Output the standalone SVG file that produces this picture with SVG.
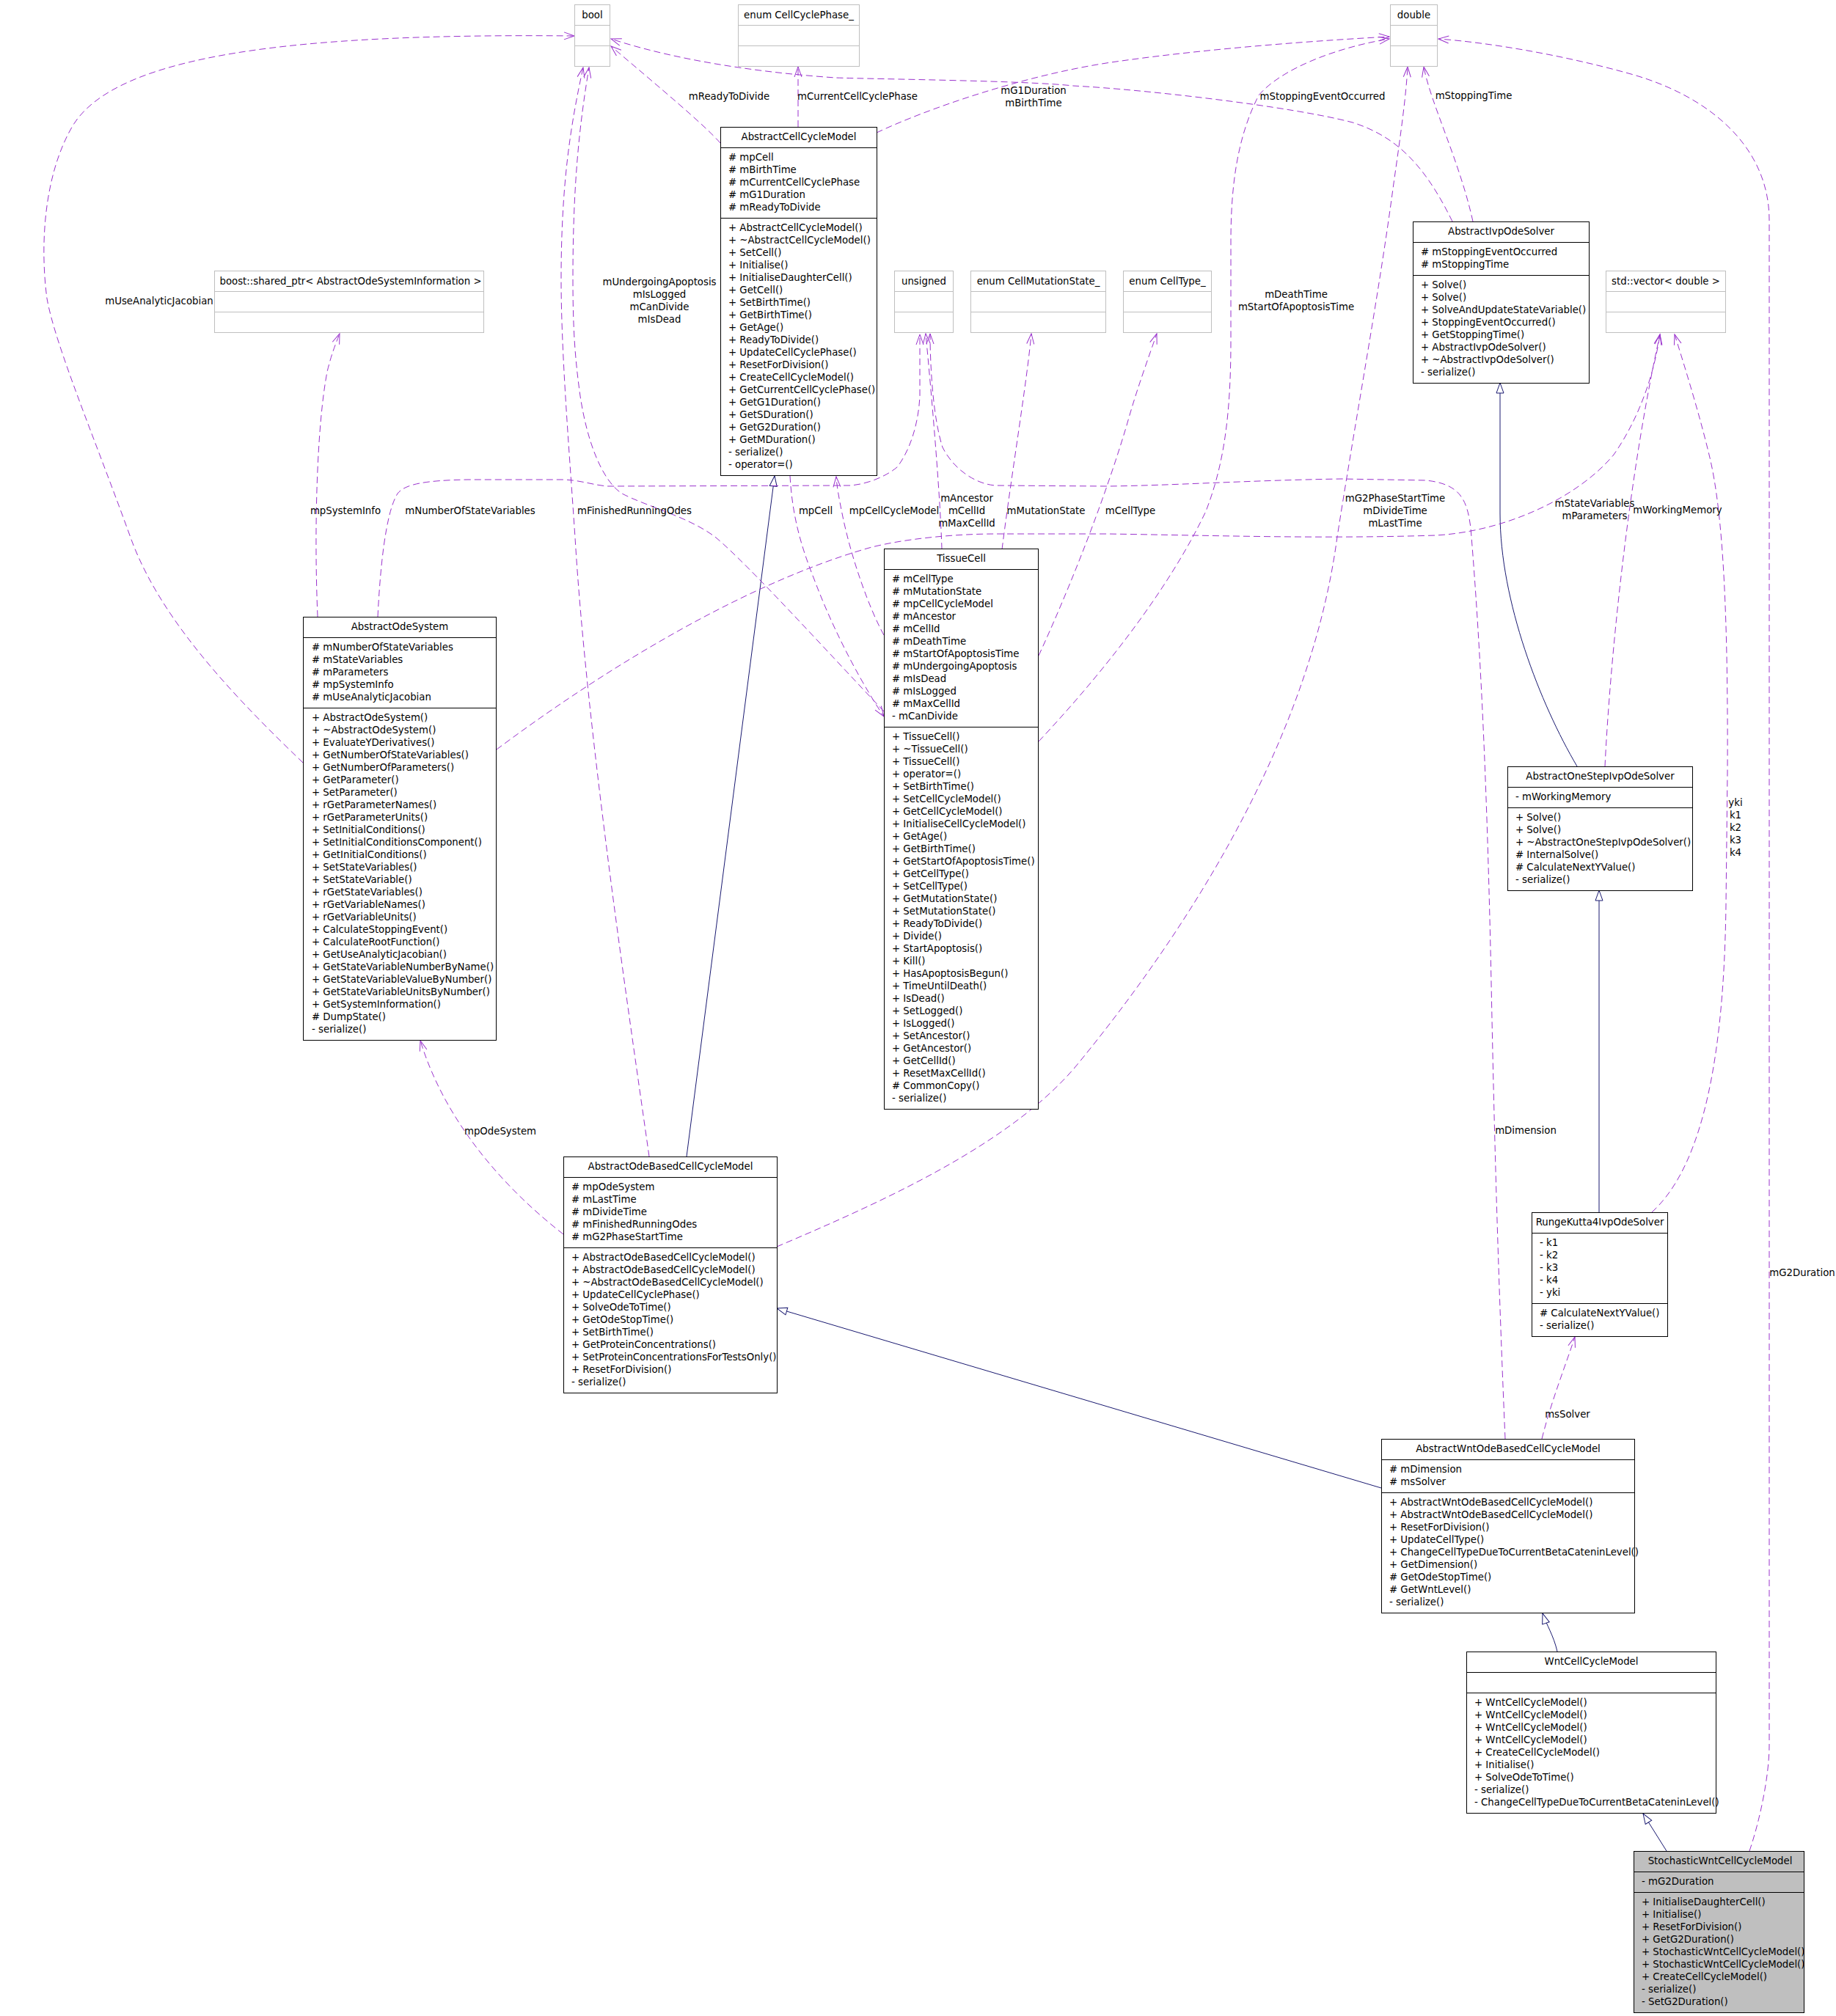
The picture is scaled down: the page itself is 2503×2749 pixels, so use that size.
<svg xmlns="http://www.w3.org/2000/svg" width="2503" height="2749" viewBox="0 0 2503 2749">
<style>
text{font-family:"DejaVu Sans","Liberation Sans",sans-serif;font-size:13.3px;fill:#000}
.c{text-anchor:middle}
.box{fill:#fff;stroke:#000;stroke-width:1}
.sel{fill:#bfbfbf;stroke:#000;stroke-width:1}
.ext{fill:#fff;stroke:#bfbfbf;stroke-width:1}
.dv{stroke:#000;stroke-width:1}
.dg{stroke:#bfbfbf;stroke-width:1}
.u{fill:none;stroke:#9a32cd;stroke-width:1;stroke-dasharray:9,5;marker-end:url(#ua)}
.i{fill:none;stroke:#191970;stroke-width:1;marker-end:url(#ia)}
</style>
<defs>
<marker id="ua" markerUnits="userSpaceOnUse" viewBox="-1 -1 17 12" markerWidth="17" markerHeight="12" refX="14" refY="5" orient="auto"><path d="M0,0 L14,5 L0,10" fill="none" stroke="#9a32cd" stroke-width="1"/></marker>
<marker id="ia" markerUnits="userSpaceOnUse" viewBox="-1 -1 17 12" markerWidth="17" markerHeight="12" refX="14" refY="5" orient="auto"><path d="M0,0 L14,5 L0,10 Z" fill="#fff" stroke="#191970" stroke-width="1"/></marker>
</defs>
<rect width="2503" height="2749" fill="#fff"/>

<g id="edges">
<path class="i" d="M936,1577 L1056,649"/>
<path class="i" d="M1883,2029 L1059,1784"/>
<path class="i" d="M2123,2252 C2118,2230 2108,2215 2103,2200"/>
<path class="i" d="M2272,2524 L2240,2473"/>
<path class="i" d="M2150,1045 C2100,960 2045,820 2045,700 L2045,522"/>
<path class="i" d="M2180,1653 L2180,1214"/>

<path class="u" d="M982,195 C960,170 900,120 833,63"/>
<path class="u" d="M1088,173 L1088,91"/>
<path class="u" d="M1195,181 C1260,150 1400,100 1529,83 C1650,66 1800,55 1894,50"/>
<path class="u" d="M1980,302 C1940,220 1900,185 1844,167 C1760,145 1560,122 1463,117 C1400,110 1200,108 1139,106 C1050,100 930,85 833,53"/>
<path class="u" d="M2008,302 C1990,220 1950,140 1941,91"/>
<path class="u" d="M1416,1011 C1520,900 1600,790 1644,697 C1670,630 1678,560 1678,463 L1678,330 C1678,260 1685,190 1716,130 C1745,95 1820,65 1894,53"/>
<path class="u" d="M1059,1700 C1200,1640 1380,1560 1470,1450 C1650,1230 1790,980 1823,732 C1850,560 1880,400 1900,250 C1910,180 1917,130 1919,91"/>
<path class="u" d="M2385,2524 C2400,2480 2412,2420 2412,2380 L2412,300 C2412,200 2330,130 2220,100 C2130,75 2030,58 1961,53"/>
<path class="u" d="M413,1040 C330,960 220,850 178,733 C130,600 75,470 64,407 C55,340 58,240 100,170 C160,75 400,45 783,49"/>
<path class="u" d="M433,841 C428,720 432,580 446,507 C452,482 458,468 463,455"/>
<path class="u" d="M515,841 C518,780 525,700 542,673 C552,660 580,655 638,654 L765,654 C790,654 810,662 829,663 L1159,662 C1185,660 1210,648 1223,637 C1240,615 1252,580 1254,540 L1254,456"/>
<path class="u" d="M885,1577 C860,1400 800,1000 784,733 C775,600 765,480 765,380 C765,250 778,170 795,92"/>
<path class="u" d="M1205,970 C1120,880 1020,770 976,733 C940,705 880,690 848,673 C820,655 800,600 791,540 C784,490 781,450 781,380 C781,250 790,170 803,92"/>
<path class="u" d="M1077,649 C1080,700 1090,740 1110,790 C1140,870 1180,940 1205,977"/>
<path class="u" d="M1205,866 C1185,830 1160,760 1148,700 C1144,680 1141,665 1140,650"/>
<path class="u" d="M1284,749 C1282,680 1272,560 1262,455"/>
<path class="u" d="M2052,1962 C2045,1800 2038,1600 2033,1340 C2028,1100 2020,900 2005,720 C2000,680 1990,660 1944,655 L1829,653 C1700,655 1600,662 1510,663 L1357,662 C1330,660 1300,640 1285,610 C1272,570 1268,500 1268,455"/>
<path class="u" d="M1366,749 C1380,640 1400,520 1406,455"/>
<path class="u" d="M1416,894 C1450,820 1500,700 1536,580 C1550,530 1565,490 1577,455"/>
<path class="u" d="M677,1022 C800,930 1000,800 1185,747 C1230,735 1300,728 1357,728 L1510,728 C1650,730 1800,735 1957,730 C2050,725 2150,680 2200,620 C2235,570 2255,510 2263,456"/>
<path class="u" d="M2188,1045 C2195,900 2220,650 2263,456"/>
<path class="u" d="M2252,1653 C2310,1600 2350,1480 2353,1233 L2355,1054 C2356,850 2350,700 2330,620 C2318,570 2300,510 2283,456"/>
<path class="u" d="M2102,1962 C2115,1910 2135,1860 2147,1823"/>
<path class="u" d="M768,1683 C700,1630 610,1540 573,1419"/>

<text class="c" x="994" y="136">mReadyToDivide</text>
<text class="c" x="1169" y="136">mCurrentCellCyclePhase</text>
<text class="c" x="1409" y="128">mG1Duration</text>
<text class="c" x="1409" y="145">mBirthTime</text>
<text class="c" x="1803" y="136">mStoppingEventOccurred</text>
<text class="c" x="2009" y="135">mStoppingTime</text>
<text class="c" x="217" y="415">mUseAnalyticJacobian</text>
<text class="c" x="899" y="389">mUndergoingApoptosis</text>
<text class="c" x="899" y="406">mIsLogged</text>
<text class="c" x="899" y="423">mCanDivide</text>
<text class="c" x="899" y="440">mIsDead</text>
<text class="c" x="1767" y="406">mDeathTime</text>
<text class="c" x="1767" y="423">mStartOfApoptosisTime</text>
<text class="c" x="471" y="701">mpSystemInfo</text>
<text class="c" x="641" y="701">mNumberOfStateVariables</text>
<text class="c" x="865" y="701">mFinishedRunningOdes</text>
<text class="c" x="1112" y="701">mpCell</text>
<text class="c" x="1219" y="701">mpCellCycleModel</text>
<text class="c" x="1318" y="684">mAncestor</text>
<text class="c" x="1318" y="701">mCellId</text>
<text class="c" x="1318" y="718">mMaxCellId</text>
<text class="c" x="1426" y="701">mMutationState</text>
<text class="c" x="1541" y="701">mCellType</text>
<text class="c" x="1902" y="684">mG2PhaseStartTime</text>
<text class="c" x="1902" y="701">mDivideTime</text>
<text class="c" x="1902" y="718">mLastTime</text>
<text class="c" x="2174" y="691">mStateVariables</text>
<text class="c" x="2174" y="708">mParameters</text>
<text class="c" x="2287" y="700">mWorkingMemory</text>
<text class="c" x="2366" y="1099">yki</text>
<text class="c" x="2366" y="1116">k1</text>
<text class="c" x="2366" y="1133">k2</text>
<text class="c" x="2366" y="1150">k3</text>
<text class="c" x="2366" y="1167">k4</text>
<text class="c" x="2080" y="1546">mDimension</text>
<text class="c" x="682" y="1547">mpOdeSystem</text>
<text class="c" x="2137" y="1933">msSolver</text>
<text class="c" x="2457" y="1740">mG2Duration</text>
</g>

<g id="bool">
<rect class="ext" x="783.5" y="6.5" width="48" height="84"/>
<line class="dg" x1="783.5" y1="34.5" x2="831.5" y2="34.5"/><line class="dg" x1="783.5" y1="62.5" x2="831.5" y2="62.5"/>
<text class="c" x="807.5" y="24.5">bool</text>
</g>
<g id="enumCellCyclePhase">
<rect class="ext" x="1006.5" y="6.5" width="165" height="84"/>
<line class="dg" x1="1006.5" y1="34.5" x2="1171.5" y2="34.5"/><line class="dg" x1="1006.5" y1="62.5" x2="1171.5" y2="62.5"/>
<text class="c" x="1089" y="24.5">enum CellCyclePhase_</text>
</g>
<g id="double">
<rect class="ext" x="1895.5" y="6.5" width="64" height="84"/>
<line class="dg" x1="1895.5" y1="34.5" x2="1959.5" y2="34.5"/><line class="dg" x1="1895.5" y1="62.5" x2="1959.5" y2="62.5"/>
<text class="c" x="1927.5" y="24.5">double</text>
</g>
<g id="boostSharedPtr">
<rect class="ext" x="292.5" y="369.5" width="367" height="84"/>
<line class="dg" x1="292.5" y1="397.5" x2="659.5" y2="397.5"/><line class="dg" x1="292.5" y1="425.5" x2="659.5" y2="425.5"/>
<text class="c" x="478" y="387.5">boost::shared_ptr&lt; AbstractOdeSystemInformation &gt;</text>
</g>
<g id="unsigned">
<rect class="ext" x="1219.5" y="369.5" width="80" height="84"/>
<line class="dg" x1="1219.5" y1="397.5" x2="1299.5" y2="397.5"/><line class="dg" x1="1219.5" y1="425.5" x2="1299.5" y2="425.5"/>
<text class="c" x="1259.5" y="387.5">unsigned</text>
</g>
<g id="enumCellMutationState">
<rect class="ext" x="1323.5" y="369.5" width="184" height="84"/>
<line class="dg" x1="1323.5" y1="397.5" x2="1507.5" y2="397.5"/><line class="dg" x1="1323.5" y1="425.5" x2="1507.5" y2="425.5"/>
<text class="c" x="1415.5" y="387.5">enum CellMutationState_</text>
</g>
<g id="enumCellType">
<rect class="ext" x="1531.5" y="369.5" width="120" height="84"/>
<line class="dg" x1="1531.5" y1="397.5" x2="1651.5" y2="397.5"/><line class="dg" x1="1531.5" y1="425.5" x2="1651.5" y2="425.5"/>
<text class="c" x="1591.5" y="387.5">enum CellType_</text>
</g>
<g id="stdVector">
<rect class="ext" x="2189.5" y="369.5" width="163" height="84"/>
<line class="dg" x1="2189.5" y1="397.5" x2="2352.5" y2="397.5"/><line class="dg" x1="2189.5" y1="425.5" x2="2352.5" y2="425.5"/>
<text class="c" x="2271" y="387.5">std::vector&lt; double &gt;</text>
</g>

<g id="AbstractCellCycleModel">
<rect class="box" x="982.5" y="173.5" width="213" height="475"/>
<line class="dv" x1="982.5" y1="201.5" x2="1195.5" y2="201.5"/><line class="dv" x1="982.5" y1="297.5" x2="1195.5" y2="297.5"/>
<text class="c" x="1089" y="191">AbstractCellCycleModel</text>
<text x="993"><tspan x="993" y="219">#  mpCell</tspan><tspan x="993" y="236">#  mBirthTime</tspan><tspan x="993" y="253">#  mCurrentCellCyclePhase</tspan><tspan x="993" y="270">#  mG1Duration</tspan><tspan x="993" y="287">#  mReadyToDivide</tspan></text>
<text x="993"><tspan x="993" y="315">+ AbstractCellCycleModel()</tspan><tspan x="993" y="332">+ ~AbstractCellCycleModel()</tspan><tspan x="993" y="349">+ SetCell()</tspan><tspan x="993" y="366">+ Initialise()</tspan><tspan x="993" y="383">+ InitialiseDaughterCell()</tspan><tspan x="993" y="400">+ GetCell()</tspan><tspan x="993" y="417">+ SetBirthTime()</tspan><tspan x="993" y="434">+ GetBirthTime()</tspan><tspan x="993" y="451">+ GetAge()</tspan><tspan x="993" y="468">+ ReadyToDivide()</tspan><tspan x="993" y="485">+ UpdateCellCyclePhase()</tspan><tspan x="993" y="502">+ ResetForDivision()</tspan><tspan x="993" y="519">+ CreateCellCycleModel()</tspan><tspan x="993" y="536">+ GetCurrentCellCyclePhase()</tspan><tspan x="993" y="553">+ GetG1Duration()</tspan><tspan x="993" y="570">+ GetSDuration()</tspan><tspan x="993" y="587">+ GetG2Duration()</tspan><tspan x="993" y="604">+ GetMDuration()</tspan><tspan x="993" y="621">- serialize()</tspan><tspan x="993" y="638">- operator=()</tspan></text>
</g>

<g id="TissueCell">
<rect class="box" x="1205.5" y="748.5" width="210" height="764"/>
<line class="dv" x1="1205.5" y1="776.5" x2="1415.5" y2="776.5"/><line class="dv" x1="1205.5" y1="991.5" x2="1415.5" y2="991.5"/>
<text class="c" x="1310.5" y="766">TissueCell</text>
<text x="1216"><tspan x="1216" y="794">#  mCellType</tspan><tspan x="1216" y="811">#  mMutationState</tspan><tspan x="1216" y="828">#  mpCellCycleModel</tspan><tspan x="1216" y="845">#  mAncestor</tspan><tspan x="1216" y="862">#  mCellId</tspan><tspan x="1216" y="879">#  mDeathTime</tspan><tspan x="1216" y="896">#  mStartOfApoptosisTime</tspan><tspan x="1216" y="913">#  mUndergoingApoptosis</tspan><tspan x="1216" y="930">#  mIsDead</tspan><tspan x="1216" y="947">#  mIsLogged</tspan><tspan x="1216" y="964">#  mMaxCellId</tspan><tspan x="1216" y="981">- mCanDivide</tspan></text>
<text x="1216"><tspan x="1216" y="1009">+ TissueCell()</tspan><tspan x="1216" y="1026">+ ~TissueCell()</tspan><tspan x="1216" y="1043">+ TissueCell()</tspan><tspan x="1216" y="1060">+ operator=()</tspan><tspan x="1216" y="1077">+ SetBirthTime()</tspan><tspan x="1216" y="1094">+ SetCellCycleModel()</tspan><tspan x="1216" y="1111">+ GetCellCycleModel()</tspan><tspan x="1216" y="1128">+ InitialiseCellCycleModel()</tspan><tspan x="1216" y="1145">+ GetAge()</tspan><tspan x="1216" y="1162">+ GetBirthTime()</tspan><tspan x="1216" y="1179">+ GetStartOfApoptosisTime()</tspan><tspan x="1216" y="1196">+ GetCellType()</tspan><tspan x="1216" y="1213">+ SetCellType()</tspan><tspan x="1216" y="1230">+ GetMutationState()</tspan><tspan x="1216" y="1247">+ SetMutationState()</tspan><tspan x="1216" y="1264">+ ReadyToDivide()</tspan><tspan x="1216" y="1281">+ Divide()</tspan><tspan x="1216" y="1298">+ StartApoptosis()</tspan><tspan x="1216" y="1315">+ Kill()</tspan><tspan x="1216" y="1332">+ HasApoptosisBegun()</tspan><tspan x="1216" y="1349">+ TimeUntilDeath()</tspan><tspan x="1216" y="1366">+ IsDead()</tspan><tspan x="1216" y="1383">+ SetLogged()</tspan><tspan x="1216" y="1400">+ IsLogged()</tspan><tspan x="1216" y="1417">+ SetAncestor()</tspan><tspan x="1216" y="1434">+ GetAncestor()</tspan><tspan x="1216" y="1451">+ GetCellId()</tspan><tspan x="1216" y="1468">+ ResetMaxCellId()</tspan><tspan x="1216" y="1485">#  CommonCopy()</tspan><tspan x="1216" y="1502">- serialize()</tspan></text>
</g>

<g id="AbstractOdeSystem">
<rect class="box" x="413.5" y="841.5" width="263" height="577"/>
<line class="dv" x1="413.5" y1="869.5" x2="676.5" y2="869.5"/><line class="dv" x1="413.5" y1="965.5" x2="676.5" y2="965.5"/>
<text class="c" x="545" y="859">AbstractOdeSystem</text>
<text x="425"><tspan x="425" y="887">#  mNumberOfStateVariables</tspan><tspan x="425" y="904">#  mStateVariables</tspan><tspan x="425" y="921">#  mParameters</tspan><tspan x="425" y="938">#  mpSystemInfo</tspan><tspan x="425" y="955">#  mUseAnalyticJacobian</tspan></text>
<text x="425"><tspan x="425" y="983">+ AbstractOdeSystem()</tspan><tspan x="425" y="1000">+ ~AbstractOdeSystem()</tspan><tspan x="425" y="1017">+ EvaluateYDerivatives()</tspan><tspan x="425" y="1034">+ GetNumberOfStateVariables()</tspan><tspan x="425" y="1051">+ GetNumberOfParameters()</tspan><tspan x="425" y="1068">+ GetParameter()</tspan><tspan x="425" y="1085">+ SetParameter()</tspan><tspan x="425" y="1102">+ rGetParameterNames()</tspan><tspan x="425" y="1119">+ rGetParameterUnits()</tspan><tspan x="425" y="1136">+ SetInitialConditions()</tspan><tspan x="425" y="1153">+ SetInitialConditionsComponent()</tspan><tspan x="425" y="1170">+ GetInitialConditions()</tspan><tspan x="425" y="1187">+ SetStateVariables()</tspan><tspan x="425" y="1204">+ SetStateVariable()</tspan><tspan x="425" y="1221">+ rGetStateVariables()</tspan><tspan x="425" y="1238">+ rGetVariableNames()</tspan><tspan x="425" y="1255">+ rGetVariableUnits()</tspan><tspan x="425" y="1272">+ CalculateStoppingEvent()</tspan><tspan x="425" y="1289">+ CalculateRootFunction()</tspan><tspan x="425" y="1306">+ GetUseAnalyticJacobian()</tspan><tspan x="425" y="1323">+ GetStateVariableNumberByName()</tspan><tspan x="425" y="1340">+ GetStateVariableValueByNumber()</tspan><tspan x="425" y="1357">+ GetStateVariableUnitsByNumber()</tspan><tspan x="425" y="1374">+ GetSystemInformation()</tspan><tspan x="425" y="1391">#  DumpState()</tspan><tspan x="425" y="1408">- serialize()</tspan></text>
</g>

<g id="AbstractIvpOdeSolver">
<rect class="box" x="1926.5" y="302.5" width="240" height="220"/>
<line class="dv" x1="1926.5" y1="330.5" x2="2166.5" y2="330.5"/><line class="dv" x1="1926.5" y1="375.5" x2="2166.5" y2="375.5"/>
<text class="c" x="2046.5" y="320">AbstractIvpOdeSolver</text>
<text x="1937"><tspan x="1937" y="348">#  mStoppingEventOccurred</tspan><tspan x="1937" y="365">#  mStoppingTime</tspan></text>
<text x="1937"><tspan x="1937" y="393">+ Solve()</tspan><tspan x="1937" y="410">+ Solve()</tspan><tspan x="1937" y="427">+ SolveAndUpdateStateVariable()</tspan><tspan x="1937" y="444">+ StoppingEventOccurred()</tspan><tspan x="1937" y="461">+ GetStoppingTime()</tspan><tspan x="1937" y="478">+ AbstractIvpOdeSolver()</tspan><tspan x="1937" y="495">+ ~AbstractIvpOdeSolver()</tspan><tspan x="1937" y="512">- serialize()</tspan></text>
</g>

<g id="AbstractOneStepIvpOdeSolver">
<rect class="box" x="2055.5" y="1045.5" width="252" height="169"/>
<line class="dv" x1="2055.5" y1="1073.5" x2="2307.5" y2="1073.5"/><line class="dv" x1="2055.5" y1="1101.5" x2="2307.5" y2="1101.5"/>
<text class="c" x="2181.5" y="1063">AbstractOneStepIvpOdeSolver</text>
<text x="2066"><tspan x="2066" y="1091">- mWorkingMemory</tspan></text>
<text x="2066"><tspan x="2066" y="1119">+ Solve()</tspan><tspan x="2066" y="1136">+ Solve()</tspan><tspan x="2066" y="1153">+ ~AbstractOneStepIvpOdeSolver()</tspan><tspan x="2066" y="1170">#  InternalSolve()</tspan><tspan x="2066" y="1187">#  CalculateNextYValue()</tspan><tspan x="2066" y="1204">- serialize()</tspan></text>
</g>

<g id="RungeKutta4IvpOdeSolver">
<rect class="box" x="2088.5" y="1653.5" width="185" height="169"/>
<line class="dv" x1="2088.5" y1="1681.5" x2="2273.5" y2="1681.5"/><line class="dv" x1="2088.5" y1="1777.5" x2="2273.5" y2="1777.5"/>
<text class="c" x="2181" y="1671">RungeKutta4IvpOdeSolver</text>
<text x="2099"><tspan x="2099" y="1699">- k1</tspan><tspan x="2099" y="1716">- k2</tspan><tspan x="2099" y="1733">- k3</tspan><tspan x="2099" y="1750">- k4</tspan><tspan x="2099" y="1767">- yki</tspan></text>
<text x="2099"><tspan x="2099" y="1795">#  CalculateNextYValue()</tspan><tspan x="2099" y="1812">- serialize()</tspan></text>
</g>

<g id="AbstractOdeBasedCellCycleModel">
<rect class="box" x="768.5" y="1577.5" width="291" height="322"/>
<line class="dv" x1="768.5" y1="1605.5" x2="1059.5" y2="1605.5"/><line class="dv" x1="768.5" y1="1701.5" x2="1059.5" y2="1701.5"/>
<text class="c" x="914" y="1595">AbstractOdeBasedCellCycleModel</text>
<text x="779"><tspan x="779" y="1623">#  mpOdeSystem</tspan><tspan x="779" y="1640">#  mLastTime</tspan><tspan x="779" y="1657">#  mDivideTime</tspan><tspan x="779" y="1674">#  mFinishedRunningOdes</tspan><tspan x="779" y="1691">#  mG2PhaseStartTime</tspan></text>
<text x="779"><tspan x="779" y="1719">+ AbstractOdeBasedCellCycleModel()</tspan><tspan x="779" y="1736">+ AbstractOdeBasedCellCycleModel()</tspan><tspan x="779" y="1753">+ ~AbstractOdeBasedCellCycleModel()</tspan><tspan x="779" y="1770">+ UpdateCellCyclePhase()</tspan><tspan x="779" y="1787">+ SolveOdeToTime()</tspan><tspan x="779" y="1804">+ GetOdeStopTime()</tspan><tspan x="779" y="1821">+ SetBirthTime()</tspan><tspan x="779" y="1838">+ GetProteinConcentrations()</tspan><tspan x="779" y="1855">+ SetProteinConcentrationsForTestsOnly()</tspan><tspan x="779" y="1872">+ ResetForDivision()</tspan><tspan x="779" y="1889">- serialize()</tspan></text>
</g>

<g id="AbstractWntOdeBasedCellCycleModel">
<rect class="box" x="1883.5" y="1962.5" width="345" height="237"/>
<line class="dv" x1="1883.5" y1="1990.5" x2="2228.5" y2="1990.5"/><line class="dv" x1="1883.5" y1="2035.5" x2="2228.5" y2="2035.5"/>
<text class="c" x="2056" y="1980">AbstractWntOdeBasedCellCycleModel</text>
<text x="1894"><tspan x="1894" y="2008">#  mDimension</tspan><tspan x="1894" y="2025">#  msSolver</tspan></text>
<text x="1894"><tspan x="1894" y="2053">+ AbstractWntOdeBasedCellCycleModel()</tspan><tspan x="1894" y="2070">+ AbstractWntOdeBasedCellCycleModel()</tspan><tspan x="1894" y="2087">+ ResetForDivision()</tspan><tspan x="1894" y="2104">+ UpdateCellType()</tspan><tspan x="1894" y="2121">+ ChangeCellTypeDueToCurrentBetaCateninLevel()</tspan><tspan x="1894" y="2138">+ GetDimension()</tspan><tspan x="1894" y="2155">#  GetOdeStopTime()</tspan><tspan x="1894" y="2172">#  GetWntLevel()</tspan><tspan x="1894" y="2189">- serialize()</tspan></text>
</g>

<g id="WntCellCycleModel">
<rect class="box" x="1999.5" y="2252.5" width="340" height="220"/>
<line class="dv" x1="1999.5" y1="2280.5" x2="2339.5" y2="2280.5"/><line class="dv" x1="1999.5" y1="2308.5" x2="2339.5" y2="2308.5"/>
<text class="c" x="2169.5" y="2270">WntCellCycleModel</text>
<text x="2010"><tspan x="2010" y="2326">+ WntCellCycleModel()</tspan><tspan x="2010" y="2343">+ WntCellCycleModel()</tspan><tspan x="2010" y="2360">+ WntCellCycleModel()</tspan><tspan x="2010" y="2377">+ WntCellCycleModel()</tspan><tspan x="2010" y="2394">+ CreateCellCycleModel()</tspan><tspan x="2010" y="2411">+ Initialise()</tspan><tspan x="2010" y="2428">+ SolveOdeToTime()</tspan><tspan x="2010" y="2445">- serialize()</tspan><tspan x="2010" y="2462">- ChangeCellTypeDueToCurrentBetaCateninLevel()</tspan></text>
</g>

<g id="StochasticWntCellCycleModel">
<rect class="sel" x="2227.5" y="2524.5" width="232" height="220"/>
<line class="dv" x1="2227.5" y1="2552.5" x2="2459.5" y2="2552.5"/><line class="dv" x1="2227.5" y1="2580.5" x2="2459.5" y2="2580.5"/>
<text class="c" x="2345" y="2542">StochasticWntCellCycleModel</text>
<text x="2238"><tspan x="2238" y="2570">- mG2Duration</tspan></text>
<text x="2238"><tspan x="2238" y="2598">+ InitialiseDaughterCell()</tspan><tspan x="2238" y="2615">+ Initialise()</tspan><tspan x="2238" y="2632">+ ResetForDivision()</tspan><tspan x="2238" y="2649">+ GetG2Duration()</tspan><tspan x="2238" y="2666">+ StochasticWntCellCycleModel()</tspan><tspan x="2238" y="2683">+ StochasticWntCellCycleModel()</tspan><tspan x="2238" y="2700">+ CreateCellCycleModel()</tspan><tspan x="2238" y="2717">- serialize()</tspan><tspan x="2238" y="2734">- SetG2Duration()</tspan></text>
</g>
</svg>
